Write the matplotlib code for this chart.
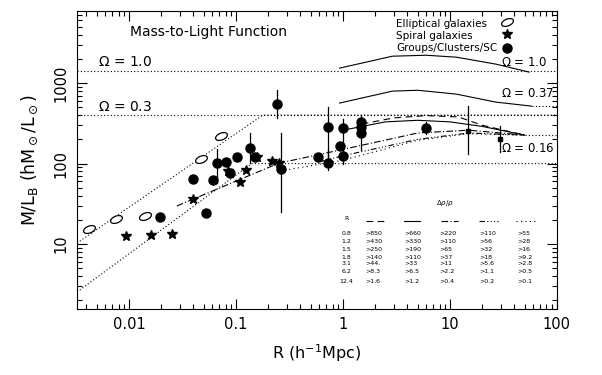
import numpy as np
import matplotlib
matplotlib.use('Agg')
import matplotlib.pyplot as plt
from matplotlib.path import Path

# Elliptical galaxies (open ellipses)
ell_r = [0.0042, 0.0076, 0.0141, 0.047, 0.072]
ell_ml = [15.4, 20.4, 22.3, 114, 220]

# Spiral galaxies (stars)
sp_r = [0.0094, 0.016, 0.025, 0.040, 0.084, 0.108, 0.123, 0.157, 0.216, 0.25]
sp_ml = [12.6, 12.9, 13.3, 36, 81, 59, 83, 120, 107, 101]

# Groups / clusters / superclusters (filled circles)
gr_r = [0.0195, 0.052, 0.040, 0.061, 0.066, 0.080, 0.102, 0.0875, 0.135, 0.15,
        0.24, 0.262, 0.58, 0.73, 0.73, 1.0, 0.94, 1.0, 1.49, 1.49, 1.49, 6.0]
gr_ml = [21.6, 24.3, 64, 62, 101, 104, 120, 76, 155, 120,
         548, 85, 120, 284, 101, 276, 165, 124, 328, 284, 239, 276]
gr_lo = [None, None, None, None, 57, None, None, None, 101, None,
         364, 25, None, 110, 83, 130, None, 100, 147, None, None, 230]
gr_hi = [None, None, None, None, 150, None, None, None, 240, None,
         814, 240, None, 500, 147, 360, None, 150, 400, None, None, 330]

# small points at large radius
sq_r = [14.8, 29.5]
sq_ml = [253, 201]
sq_lo = [131, 140]
sq_hi = [520, 290]

# model lines
up_r = [0.00327, 0.178, 100]
up_ml = [10.3, 400, 400]
lo_r = [0.00327, 0.14, 100]
lo_ml = [2.54, 100, 100]
mid_r = [0.028, 0.25]
mid_ml = [29.7, 101]

om10_r = [0.93, 2.9, 6.0, 11.5, 27, 55]
om10_ml = [1535, 2160, 2220, 2100, 1720, 1370]
om37_r = [0.93, 2.9, 5.0, 11.5, 27, 58]
om37_ml = [565, 795, 815, 730, 580, 518]

c_dash_r = [1.5, 3, 6, 12, 20, 50]
c_dash_ml = [310, 370, 395, 380, 300, 226]
c_solid_r = [1.0, 2.5, 5, 10, 20, 50]
c_solid_ml = [260, 330, 345, 330, 290, 226]
c_dd_r = [0.25, 1, 5, 15, 50]
c_dd_ml = [101, 150, 240, 260, 226]
c_d3_r = [0.6, 1, 5, 15, 50]
c_d3_ml = [105, 125, 200, 240, 226]
c_dot_r = [0.26, 1, 5, 15, 50]
c_dot_ml = [81, 110, 195, 235, 226]

tab_R = ['0.8', '1.2', '1.5', '1.8', '3.1', '6.2', '12.4']
tab_cols = [
    ['>850', '>430', '>250', '>140', '>44.', '>8.3', '>1.6'],
    ['>660', '>330', '>190', '>110', '>33', '>6.5', '>1.2'],
    ['>220', '>110', '>65', '>37', '>11', '>2.2', '>0.4'],
    ['>110', '>56', '>32', '>18', '>5.6', '>1.1', '>0.2'],
    ['>55', '>28', '>16', '>9.2', '>2.8', '>0.5', '>0.1'],
]
tab_styles = [(0, (6, 4)), '-', (0, (6, 2, 1, 2)), (0, (5, 2, 1, 2, 1, 2, 1, 2)), (0, (1, 3))]

fig = plt.figure(figsize=(6.02, 3.75), dpi=100)
ax = fig.add_axes([0.128, 0.176, 0.797, 0.795])
ax.set_xscale('log')
ax.set_yscale('log')
ax.set_xlim(0.00327, 100)
ax.set_ylim(1.56, 7900)

lw = 0.8
dot = (0, (1, 2))
# horizontal Omega levels
ax.axhline(1410, color='k', ls=dot, lw=lw)
ax.axhline(400, color='k', ls=dot, lw=lw)
ax.plot([58, 100], [518, 518], color='k', ls=dot, lw=lw)
ax.plot([50, 100], [226, 226], color='k', ls=dot, lw=lw)

ax.plot(up_r, up_ml, color='k', ls=dot, lw=lw)
ax.plot(lo_r, lo_ml, color='k', ls=dot, lw=lw)
ax.plot(mid_r, mid_ml, color='k', ls=(0, (6, 2, 1, 2)), lw=lw)

ax.plot(om10_r, om10_ml, color='k', lw=lw)
ax.plot(om37_r, om37_ml, color='k', lw=lw)
ax.plot(c_dash_r, c_dash_ml, color='k', ls=tab_styles[0], lw=lw)
ax.plot(c_solid_r, c_solid_ml, color='k', ls=tab_styles[1], lw=lw)
ax.plot(c_dd_r, c_dd_ml, color='k', ls=tab_styles[2], lw=lw)
ax.plot(c_d3_r, c_d3_ml, color='k', ls=tab_styles[3], lw=lw)
ax.plot(c_dot_r, c_dot_ml, color='k', ls=tab_styles[4], lw=lw)

# error bars
for r, lo, hi in zip(gr_r, gr_lo, gr_hi):
    if lo is not None:
        ax.plot([r, r], [lo, hi], color='k', lw=0.9)
for r, lo, hi in zip(sq_r, sq_lo, sq_hi):
    ax.plot([r, r], [lo, hi], color='k', lw=0.9)

# tilted ellipse marker
t = np.linspace(0, 2 * np.pi, 40)
a = np.radians(22)
ex, ey = np.cos(t), 0.55 * np.sin(t)
ell_marker = Path(np.column_stack([ex * np.cos(a) - ey * np.sin(a),
                                   ex * np.sin(a) + ey * np.cos(a)]))

ax.plot(ell_r, ell_ml, ls='none', marker=ell_marker, ms=8.5, mfc='white', mec='k', mew=0.9)
ax.plot(sp_r, sp_ml, ls='none', marker='*', ms=7.5, color='k')
ax.plot(gr_r, gr_ml, ls='none', marker='o', ms=6.5, color='k')
ax.plot(sq_r, sq_ml, ls='none', marker='s', ms=3, color='k')

# ticks
ax.tick_params(which='both', direction='in', top=True, right=True)
ax.tick_params(which='major', length=7, width=0.8, labelsize=10.5, pad=6)
ax.tick_params(which='minor', length=3.5, width=0.8)
ax.set_xticks([0.01, 0.1, 1, 10, 100])
ax.set_xticklabels(['0.01', '0.1', '1', '10', '100'])
ax.set_yticks([10, 100, 1000])
ax.set_yticklabels(['10', '100', '1000'], rotation=90, va='center')
for s in ax.spines.values():
    s.set_linewidth(0.8)

ax.set_xlabel(r'R (h$^{-1}$Mpc)', fontsize=11.5, labelpad=7)
ax.set_ylabel(r'M/L$_{\rm B}$ (hM$_\odot$/L$_\odot$)', fontsize=12.5, labelpad=10)

# text labels
ax.text(0.0102, 4300, 'Mass-to-Light Function', fontsize=10, va='center')
ax.text(0.00514, 1820, r'$\Omega$ = 1.0', fontsize=10, va='center')
ax.text(0.00514, 503, r'$\Omega$ = 0.3', fontsize=10, va='center')
ax.text(30.0, 1820, r'$\Omega$ = 1.0', fontsize=8.5, va='center')
ax.text(30.0, 750, r'$\Omega$ = 0.37', fontsize=8.5, va='center')
ax.text(30.0, 152, r'$\Omega$ = 0.16', fontsize=8.5, va='center')

# legend
leg_txt = ['Elliptical galaxies', 'Spiral galaxies', 'Groups/Clusters/SC']
leg_y = [5410, 3840, 2720]
for txt, y in zip(leg_txt, leg_y):
    ax.text(3.16, y, txt, fontsize=7.5, ha='left', va='center')
ax.plot([34], [5730], ls='none', marker=ell_marker, ms=8.5, mfc='white', mec='k', mew=0.9)
ax.plot([34], [4060], ls='none', marker='*', ms=7.5, color='k')
ax.plot([34], [2720], ls='none', marker='o', ms=6.5, color='k')

# table of overdensities
ax.text(9.06, 32, r'$\Delta\rho/\rho$', fontsize=5, ha='center', va='center')
ax.text(1.08, 21, 'R', fontsize=4.5, ha='center', va='center')
col_x = [1.63, 3.76, 7.9, 18.8, 42.6]
line_x0 = [1.65, 3.76, 8.2, 18.8, 41.5]
line_x1 = [2.55, 5.2, 12.0, 28.0, 62.0]
for x0, x1, st in zip(line_x0, line_x1, tab_styles):
    ax.plot([x0, x1], [19.3, 19.3], color='k', ls=st, lw=0.8)
row_y = [13.7, 10.9, 8.67, 6.9, 5.8, 4.5, 3.47]
for ry, rv in zip(row_y, tab_R):
    ax.text(1.08, ry, rv, fontsize=4.5, ha='center', va='center')
for cx, col in zip(col_x, tab_cols):
    for ry, v in zip(row_y, col):
        ax.text(cx, ry, v, fontsize=4.5, ha='left', va='center')

fig.savefig('out.png', dpi=100)
